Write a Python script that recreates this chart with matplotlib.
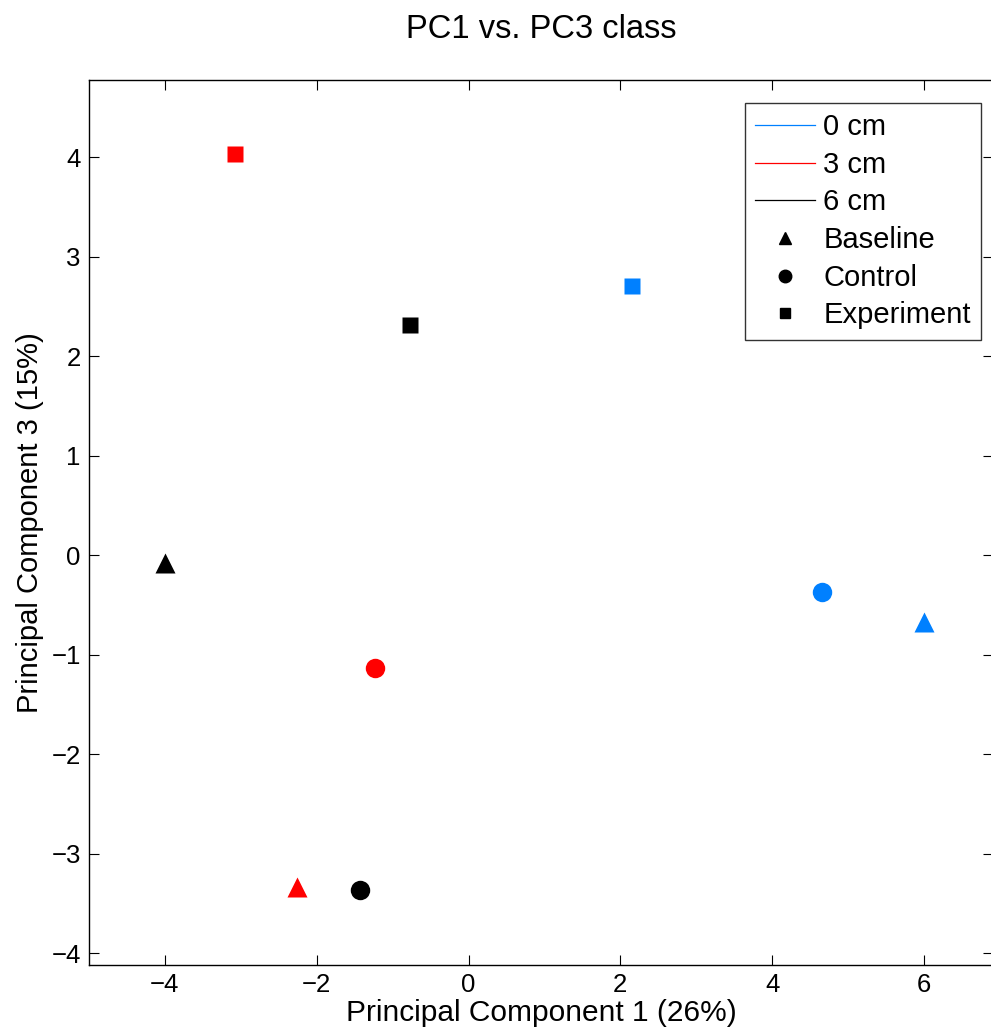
import matplotlib
matplotlib.use('Agg')
import matplotlib.pyplot as plt
from matplotlib.lines import Line2D

plt.rcParams['font.family'] = ['Liberation Sans', 'DejaVu Sans']

# PCA scores (PC1, PC3) per distance / condition
blue = '#0080ff'
red = '#ff0000'
black = '#000000'

pc1_baseline = [6.0, -2.26, -4.0]
pc3_baseline = [-0.67, -3.34, -0.08]
pc1_control = [4.66, -1.23, -1.43]
pc3_control = [-0.37, -1.14, -3.37]
pc1_experiment = [2.15, -3.07, -0.77]
pc3_experiment = [2.70, 4.03, 2.31]
colors = [blue, red, black]
distances = ['0 cm', '3 cm', '6 cm']
conditions = ['Baseline', 'Control', 'Experiment']

W, H = 991, 1028
fig = plt.figure(figsize=(W / 100, H / 100), dpi=100)
ax = fig.add_axes([89 / W, 1 - 965 / H, 904 / W, 885 / H])

for i in range(3):
    ax.plot(pc1_baseline[i], pc3_baseline[i], '^', color=colors[i], ms=15, mec='none')
    ax.plot(pc1_control[i], pc3_control[i], 'o', color=colors[i], ms=14, mec='none')
    ax.plot(pc1_experiment[i], pc3_experiment[i], 's', color=colors[i], ms=11.5, mec='none')

ax.set_xlim(-5, 6.91)
ax.set_ylim(-4.12, 4.774)
ax.set_xticks([-4, -2, 0, 2, 4, 6])
ax.set_yticks([-4, -3, -2, -1, 0, 1, 2, 3, 4])
ax.tick_params(direction='in', top=True, right=True, length=7, width=0.8, labelsize=18.5, pad=6)
for s in ax.spines.values():
    s.set_linewidth(1.0)

ax.set_xlabel('Principal Component 1 (26%)', fontsize=21.5, labelpad=1)
ax.set_ylabel('Principal Component 3 (15%)', fontsize=21, labelpad=5)
ax.set_title('PC1 vs. PC3 class', fontsize=23.5, pad=30)

handles = [Line2D([], [], color=c, lw=0.9) for c in colors]
handles += [Line2D([], [], ls='none', marker=m, color='k', ms=s)
            for m, s in [('^', 9), ('o', 9), ('s', 7)]]
leg = ax.legend(handles, distances + conditions, loc='upper right',
                bbox_to_anchor=((981 - 89) / 904, 1 - 23 / 885),
                fontsize=21, frameon=True, fancybox=False, handlelength=2.05,
                handletextpad=0.3, labelspacing=0.33, borderpad=0.35, borderaxespad=0)
leg.get_frame().set_edgecolor('k')
leg.get_frame().set_linewidth(1.0)

fig.savefig('out.png', dpi=100)
